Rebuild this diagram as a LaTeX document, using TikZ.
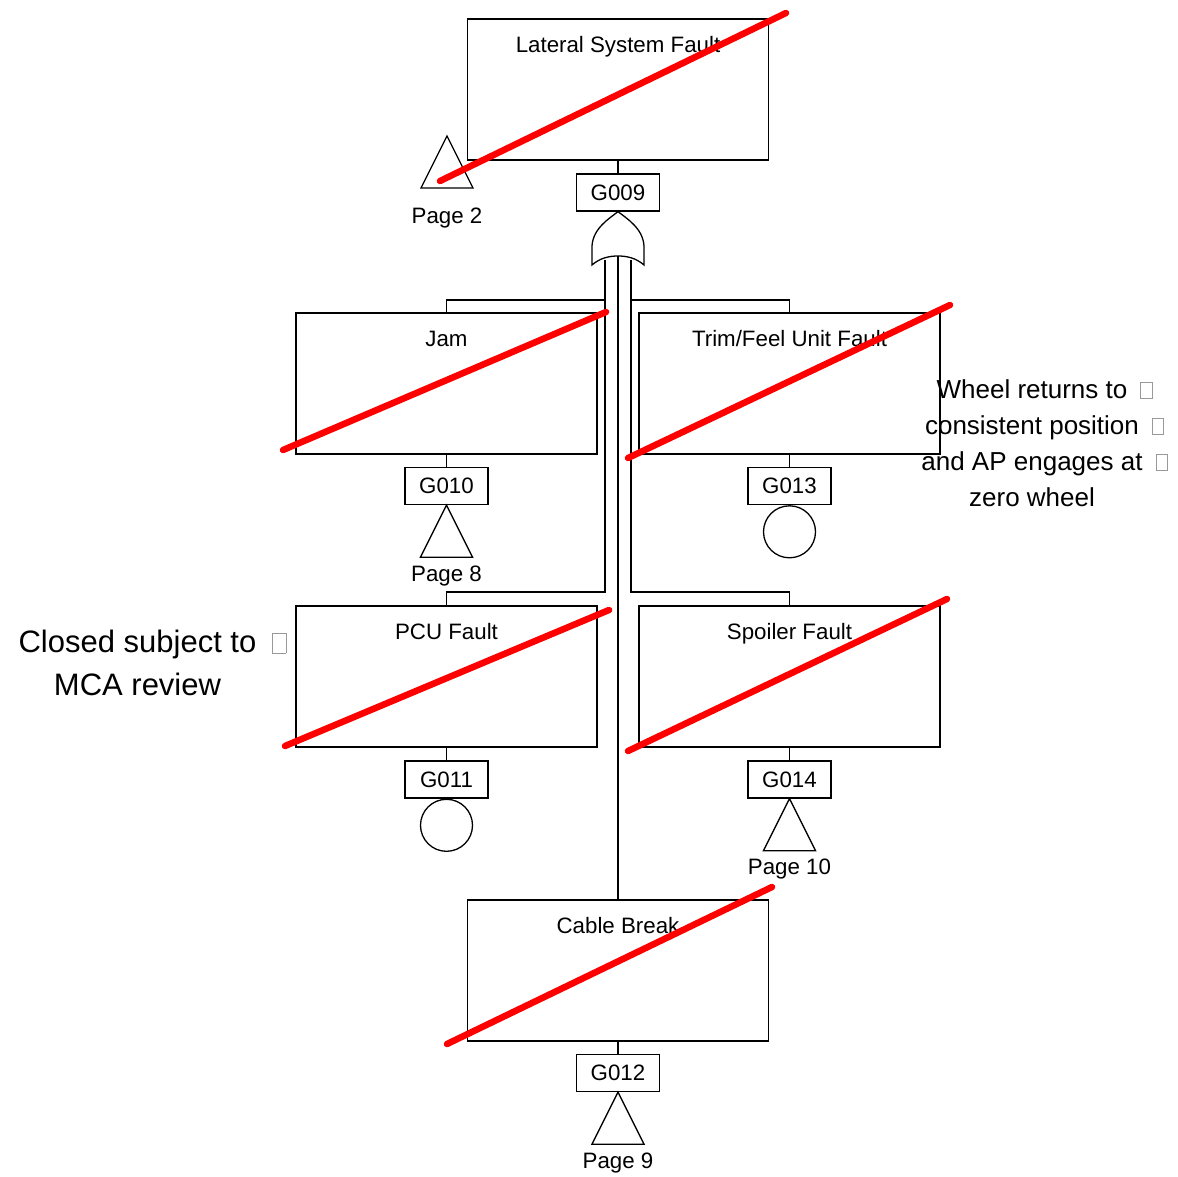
\documentclass[tikz,border=0pt]{standalone}
\usepackage{fontspec}
\setmainfont{Liberation Sans}
\usepackage{xcolor}
\newcommand\missbox{\textcolor{gray!80}{\setlength{\fboxsep}{0pt}\setlength{\fboxrule}{0.6pt}\fbox{\rule{0pt}{0.62em}\hspace{0.42em}}}}
\newcommand\missafter{\rlap{\hspace{0.5em}\missbox}}
\begin{document}
\begin{tikzpicture}[x=1pt,y=-1pt,
  wire/.style={line width=1.3pt},
  evbox/.style={draw,line width=1.3pt,minimum width=301pt,minimum height=141pt,inner sep=0pt},
  gbox/.style={draw,line width=1.3pt,minimum width=83pt,minimum height=37pt,inner sep=0pt,font=\fontsize{22.3}{24}\selectfont},
  lbl/.style={anchor=base,inner sep=0pt,font=\fontsize{22.3}{24}\selectfont},
  cross/.style={red,line width=6.5pt,line cap=round},
  circ/.style={draw,circle,line width=1.3pt,minimum size=52pt,inner sep=0pt,anchor=north},
  note/.style={align=center,inner sep=0pt}
]
\useasboundingbox (0,0) rectangle (1178,1177);

% event boxes
\node[evbox] (top) at (618,89.5) {};
\node[evbox] (jam) at (446.5,383.5) {};
\node[evbox] (trim) at (789.5,383.5) {};
\node[evbox] (pcu) at (446.5,676.5) {};
\node[evbox] (spoil) at (789.5,676.5) {};
\node[evbox] (cable) at (618,970.5) {};

% labels
\node[lbl] at ([yshift=-34pt]top.north) {Lateral System Fault};
\node[lbl] at ([yshift=-34pt]jam.north) {Jam};
\node[lbl] at ([yshift=-34pt]trim.north) {Trim/Feel Unit Fault};
\node[lbl] at ([yshift=-34pt]pcu.north) {PCU Fault};
\node[lbl] at ([yshift=-34pt]spoil.north) {Spoiler Fault};
\node[lbl] at ([yshift=-34pt]cable.north) {Cable Break};

% gate id boxes
\node[gbox] (g009) at (618,192.5) {G009};
\node[gbox] (g010) at (446.5,486) {G010};
\node[gbox] (g013) at (789.5,486) {G013};
\node[gbox] (g011) at (446.5,779.5) {G011};
\node[gbox] (g014) at (789.5,779.5) {G014};
\node[gbox] (g012) at (618,1073) {G012};

\draw[wire] (top.south) -- (g009.north);
\draw[wire] (jam.south) -- (g010.north);
\draw[wire] (trim.south) -- (g013.north);
\draw[wire] (pcu.south) -- (g011.north);
\draw[wire] (spoil.south) -- (g014.north);
\draw[wire] (cable.south) -- (g012.north);

% OR gate
\coordinate (gtip) at (g009.south);
\draw[wire,fill=white] (gtip) .. controls (610,218) and (593,228) .. (592,246) -- (592,265)
  .. controls (600,258) and (609,256) .. (618,256)
  .. controls (627,256) and (636,258) .. (644,265) -- (644,246)
  .. controls (643,228) and (626,218) .. (gtip) -- cycle;
\coordinate (oL) at (605,260);
\coordinate (oM) at (618,256);
\coordinate (oR) at (631,260);
\draw[wire] (oL) -- (605,592) -| (pcu.north);
\draw[wire] (605,300) -| (jam.north);
\draw[wire] (oR) -- (631,592) -| (spoil.north);
\draw[wire] (631,300) -| (trim.north);
\draw[wire] (oM) -- (cable.north);

% transfer triangles
\draw[wire] (447,136) -- (473,188) -- (421,188) -- cycle;
\node[lbl] at (447,224) {Page 2};
\draw[wire] (g010.south) -- ++(26,52) -- ++(-52,0) -- cycle;
\node[lbl] at ([yshift=-76pt]g010.south) {Page 8};
\draw[wire] (g014.south) -- ++(26,52) -- ++(-52,0) -- cycle;
\node[lbl] at ([yshift=-76pt]g014.south) {Page 10};
\draw[wire] (g012.south) -- ++(26,52) -- ++(-52,0) -- cycle;
\node[lbl] at ([yshift=-76pt]g012.south) {Page 9};

% basic events
\node[circ] (c13) at (g013.south) {};
\node[circ] (c11) at (g011.south) {};

% red strike lines
\draw[cross] (440,181) -- (786,13);
\draw[cross] (283,450) -- (606,312);
\draw[cross] (628,458) -- (950,305);
\draw[cross] (285,746) -- (609,610);
\draw[cross] (628,751) -- (947,599);
\draw[cross] (447,1044) -- (772,887);

% notes
\node[note,font=\fontsize{26}{36}\selectfont] (n1) at (1032,443)
  {Wheel returns to\missafter\\consistent position\missafter\\and AP engages at\missafter\\zero wheel};
\node[note,font=\fontsize{31}{43}\selectfont] (n2) at (137.5,663)
  {Closed subject to\missafter\\MCA review};
\end{tikzpicture}
\end{document}
